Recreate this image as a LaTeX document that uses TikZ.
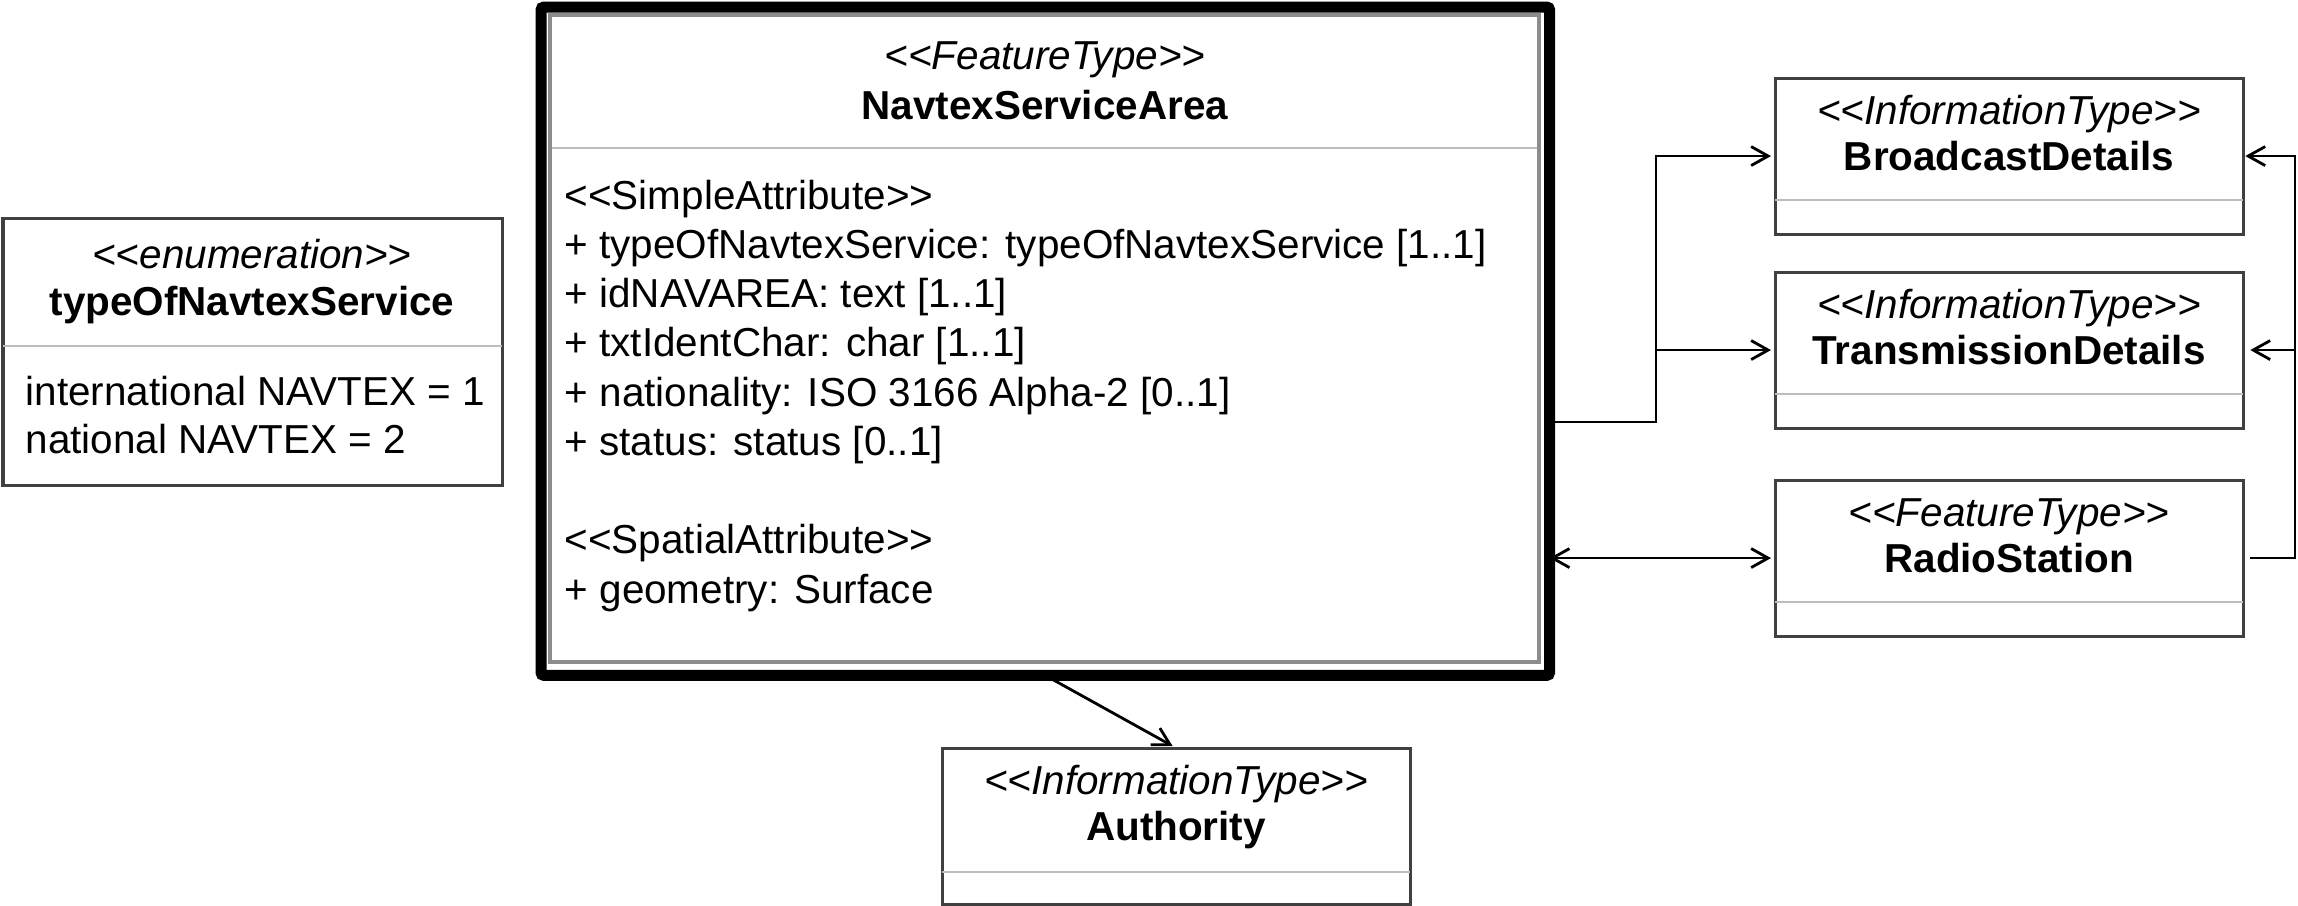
\documentclass[tikz,border=0pt]{standalone}
\usepackage{fontspec}
\setmainfont{Liberation Sans}
\usetikzlibrary{arrows.meta}
\definecolor{boxgray}{HTML}{404040}
\definecolor{sepgray}{HTML}{BDBDBD}
\definecolor{framegray}{HTML}{8C8C8C}
\newcommand{\guil}[1]{<\kern0pt<#1>\kern0pt>}
\newcommand{\umlst}[1]{\textit{\guil{#1}}}

\begin{document}
\begin{tikzpicture}[x=0.01cm, y=-0.01cm, font=\fontsize{11.5}{14}\selectfont]
\tikzset{classe/.style={draw=boxgray, line width=0.03cm, anchor=north west, inner sep=0pt, outer sep=0pt, minimum width=4.68cm, minimum height=1.56cm}}
\tikzset{entete/.style={anchor=base, inner sep=0pt}}
\tikzset{attr/.style={anchor=base west, inner sep=0pt, align=left}}
\tikzset{separ/.style={draw=sepgray, line width=0.025cm}}
\tikzset{assoc/.style={draw=black, line width=0.028cm}}
\tikzset{>={Straight Barb[length=0.17cm, width=0.19cm]}}
\useasboundingbox (0,0) rectangle (2298,905);

% NavtexServiceArea
\node[classe, draw=black, line width=0.11cm, rounded corners=0.03cm, minimum width=10.08cm, minimum height=6.68cm] (NSA) at (541,7) {};
\draw[framegray, line width=0.045cm] (550,15) rectangle (1539,662);
\draw[separ] (552,148) -- (1537,148);
\node[entete] (NSAs) at (1045,69) {\umlst{FeatureType}};
\node[entete] (NSAn) at (1045,119) {\textbf{NavtexServiceArea}};
% base = last line
\node[attr] (NSAa) at (564,603) {\guil{SimpleAttribute}\\
+ typeOfNavtexService: typeOfNavtexService [1..1]\\
+ idNAVAREA: text [1..1]\\
+ txtIdentChar: char [1..1]\\
+ nationality: ISO 3166 Alpha-2 [0..1]\\
+ status: status [0..1]\\[14pt]
\guil{SpatialAttribute}\\
+ geometry: Surface};

% enumeration
\node[classe, minimum width=4.99cm, minimum height=2.67cm] (TNS) at (3,218) {};
\draw[separ] (TNS.west |- 0,346) -- (TNS.east |- 0,346);
\node[entete] (TNSs) at (252,268) {\umlst{enumeration}};
\node[entete] (TNSn) at (252,315) {\textbf{typeOfNavtexService}};
\node[attr, font=\fontsize{11.5}{13.4}\selectfont] (TNSa) at (25,453) {international NAVTEX = 1\\
national NAVTEX = 2};

% right column
\node[classe] (BD) at (1775,78) {};
\draw[separ] (BD.west |- 0,200) -- (BD.east |- 0,200);
\node[entete] (BDs) at (2009,124) {\umlst{InformationType}};
\node[entete] (BDn) at (2009,170) {\textbf{BroadcastDetails}};

\node[classe] (TD) at (1775,272) {};
\draw[separ] (TD.west |- 0,394) -- (TD.east |- 0,394);
\node[entete] (TDs) at (2009,318) {\umlst{InformationType}};
\node[entete] (TDn) at (2009,364) {\textbf{TransmissionDetails}};

\node[classe] (RS) at (1775,480) {};
\draw[separ] (RS.west |- 0,602) -- (RS.east |- 0,602);
\node[entete] (RSs) at (2009,526) {\umlst{FeatureType}};
\node[entete] (RSn) at (2009,572) {\textbf{RadioStation}};

% bottom
\node[classe] (AU) at (942,748) {};
\draw[separ] (AU.west |- 0,872) -- (AU.east |- 0,872);
\node[entete] (AUs) at (1176,794) {\umlst{InformationType}};
\node[entete] (AUn) at (1176,840) {\textbf{Authority}};

% associations
\coordinate (c1) at (1656,422);
\coordinate (c2) at (RS.east -| 2295,0);
\draw[assoc, ->, shorten >=0.04cm] (NSA.east |- c1) -- (c1) |- (BD.west);
\draw[assoc, ->, shorten >=0.04cm] (c1 |- TD.west) -- (TD.west);
\draw[assoc, <->, shorten >=0.04cm] (NSA.east |- RS.west) -- (RS.west);
\draw[assoc, ->] ([xshift=0.07cm]RS.east) -- (c2) |- ([xshift=0.02cm]BD.east);
\draw[assoc, ->] (c2 |- TD.east) -- ([xshift=0.07cm]TD.east);
\draw[assoc, ->, shorten >=0.04cm] (NSA.south) -- (AU.north);
\end{tikzpicture}
\end{document}
